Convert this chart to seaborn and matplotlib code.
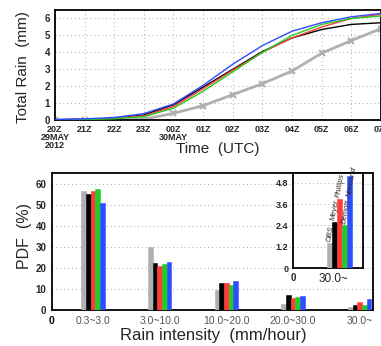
import matplotlib
matplotlib.use("Agg")
import matplotlib.pyplot as plt
import seaborn as sns
import pandas as pd
import numpy as np

# ---- data ----
hours = ["20Z", "21Z", "22Z", "23Z", "00Z", "01Z", "02Z", "03Z", "04Z", "05Z", "06Z", "07Z"]
hour_labels = ["20Z\n29MAY\n2012", "21Z", "22Z", "23Z", "00Z\n30MAY", "01Z", "02Z", "03Z", "04Z", "05Z", "06Z", "07Z"]
rain_obs = [0.0, 0.0, 0.0, 0.05, 0.4, 0.85, 1.5, 2.15, 2.9, 3.95, 4.7, 5.4]
rain_meyer = [0.02, 0.05, 0.1, 0.3, 0.9, 1.95, 3.0, 4.05, 4.85, 5.35, 5.65, 5.75]
rain_phillips = [0.02, 0.05, 0.1, 0.25, 0.8, 1.85, 2.95, 4.0, 4.85, 5.5, 6.0, 6.25]
rain_demott = [0.01, 0.03, 0.08, 0.2, 0.7, 1.7, 2.85, 4.0, 5.0, 5.65, 6.0, 6.15]
rain_niemand = [0.03, 0.07, 0.15, 0.38, 0.95, 2.05, 3.3, 4.4, 5.25, 5.75, 6.1, 6.3]

bins = ["0.3~3.0", "3.0~10.0", "10.0~20.0", "20.0~30.0", "30.0~"]
pdf_obs = [56.5, 30.0, 9.5, 2.7, 1.4]
pdf_meyer = [55.0, 22.3, 13.0, 7.0, 2.6]
pdf_phillips = [56.5, 21.0, 13.0, 5.5, 3.9]
pdf_demott = [57.5, 22.0, 12.0, 6.0, 2.4]
pdf_niemand = [51.0, 23.0, 14.0, 6.7, 5.2]

schemes = ["OBS", "Meyer", "Phillips", "Demott", "Niemand"]
colors = ["#b0b0b0", "#000000", "#ff3b3b", "#22cc22", "#2e4dff"]

# ---- long tables ----
rain = pd.DataFrame({"step": np.tile(np.arange(len(hours)), 5),
                     "rain": rain_obs + rain_meyer + rain_phillips + rain_demott + rain_niemand,
                     "scheme": np.repeat(schemes, len(hours))})
pdf = pd.DataFrame({"bin": np.tile(bins, 5),
                    "pdf": pdf_obs + pdf_meyer + pdf_phillips + pdf_demott + pdf_niemand,
                    "scheme": np.repeat(schemes, len(bins))})

sns.set_style("white")
narrow = ["Liberation Sans Narrow", "Liberation Sans", "DejaVu Sans"]
plt.rcParams["font.family"] = narrow
plt.rcParams["axes.linewidth"] = 1.3

fig = plt.figure(figsize=(3.81, 3.46), dpi=100)

# ---- top panel: accumulated rain ----
ax1 = fig.add_axes([0.144, 0.653, 0.856, 0.318])
for name, col in zip(schemes, colors):
    sub = rain[rain["scheme"] == name]
    if name == "OBS":
        sns.lineplot(data=sub, x="step", y="rain", color=col, lw=2.0, marker="x",
                     markersize=4, mew=1.5, mec=col, ax=ax1, zorder=2)
    else:
        sns.lineplot(data=sub, x="step", y="rain", color=col, lw=1.0, ax=ax1, zorder=3)
ax1.set_xlim(0, len(hours) - 1)
ax1.set_ylim(0, 6.5)
ax1.set_xticks(np.arange(len(hours)))
ax1.set_xticklabels(hour_labels, fontsize=6.5, fontweight="bold", linespacing=0.85, va="top")
ax1.set_yticks(range(0, 7))
ax1.set_yticklabels(range(0, 7), fontsize=7, fontweight="bold")
ax1.tick_params(length=2, pad=1.5)
ax1.grid(True, ls=(0, (1, 3)), color="#aaaaaa", lw=0.7)
ax1.set_xlabel("Time  (UTC)", fontsize=11)
ax1.xaxis.set_label_coords(0.498, -0.2)
ax1.set_ylabel("Total Rain  (mm)", fontsize=11)
ax1.yaxis.set_label_coords(-0.077, 0.48)
for s in ax1.spines.values():
    s.set_color("black")

# ---- bottom panel: PDF bars ----
ax2 = fig.add_axes([0.136, 0.104, 0.843, 0.396])
sns.barplot(data=pdf, x="bin", y="pdf", hue="scheme", palette=colors, width=0.35,
            gap=0, ax=ax2, legend=False, saturation=1, zorder=3)
ax2.set_xlim(-0.615, 4.2)
ax2.set_ylim(0, 65)
ax2.set_xticks([-0.615] + list(range(len(bins))))
ax2.set_xticklabels(["0"] + bins, fontsize=7.5, color="#555555")
ax2.get_xticklabels()[0].set_color("black")
ax2.get_xticklabels()[0].set_fontweight("bold")
ax2.set_yticks(range(0, 61, 10))
ax2.set_yticklabels(range(0, 61, 10), fontsize=7, fontweight="bold")
ax2.tick_params(length=2.5, pad=1.5)
ax2.yaxis.grid(True, ls=(0, (1, 3)), color="#aaaaaa", lw=0.7)
ax2.set_axisbelow(True)
ax2.set_xlabel("Rain intensity  (mm/hour)", fontsize=12)
ax2.xaxis.set_label_coords(0.503, -0.131)
ax2.set_ylabel("PDF  (%)", fontsize=11.5)
ax2.yaxis.set_label_coords(-0.062, 0.54)
for s in ax2.spines.values():
    s.set_color("black")

# ---- inset: last bin ----
ax3 = fig.add_axes([0.769, 0.225, 0.184, 0.275])
last = pdf[pdf["bin"] == bins[-1]]
sns.barplot(data=last, x="bin", y="pdf", hue="scheme", palette=colors, width=0.35,
            gap=0, ax=ax3, legend=False, saturation=1, zorder=3)
ax3.set_xlim(-0.644, 0.336)
ax3.set_ylim(0, 5.35)
ax3.set_xticks([-0.644, -0.08])
ax3.set_xticklabels(["0", bins[-1]], fontsize=8.5)
ax3.get_xticklabels()[0].set_fontweight("bold")
ax3.get_xticklabels()[0].set_fontsize(7)
ax3.set_yticks([0, 1.2, 2.4, 3.6, 4.8])
ax3.set_yticklabels(["0", "1.2", "2.4", "3.6", "4.8"], fontsize=6.5, fontweight="bold")
ax3.tick_params(length=2, pad=1.5)
ax3.yaxis.grid(True, ls=(0, (1, 3)), color="#aaaaaa", lw=0.7)
ax3.set_axisbelow(True)
ax3.set_xlabel("")
ax3.set_ylabel("")
for s in ax3.spines.values():
    s.set_color("black")

# close the hairline gaps between neighbouring bars
for axis in (ax2, ax3):
    for bar in axis.patches:
        bar.set_edgecolor(bar.get_facecolor())
        bar.set_linewidth(0.4)

for bar, name in zip(ax3.patches, schemes):
    base = bar.get_height() + 0.08
    if name == "Niemand":
        base = bar.get_height() - 1.2
    ax3.text(bar.get_x() + bar.get_width() * 0.45, base, name, rotation=80,
             fontsize=5.5, fontstyle="italic", ha="left", va="center",
             rotation_mode="anchor", clip_on=False, zorder=5)

fig.savefig("out.png", dpi=100)
